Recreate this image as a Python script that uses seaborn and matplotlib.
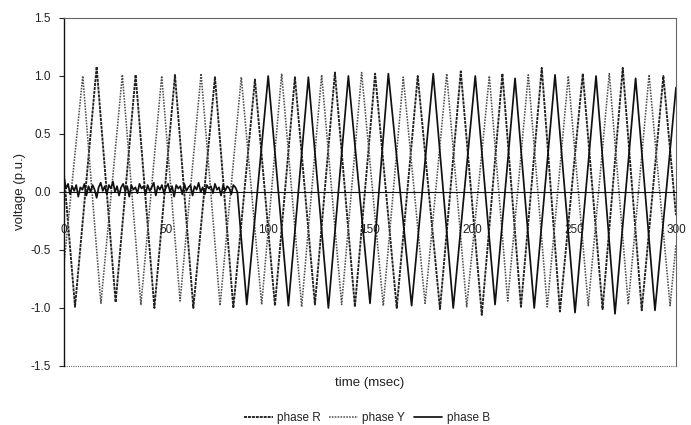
import numpy as np
import pandas as pd
import matplotlib
matplotlib.use("Agg")
import matplotlib.pyplot as plt
from matplotlib.lines import Line2D
import seaborn as sns

# Phase R: start value then alternating troughs / peaks (time in msec, voltage in p.u.)
r_time = [0, 5.4, 16.0, 25.3, 35.1, 44.3, 54.4, 63.4, 74.0, 83.0, 93.6, 103.4,
          113.2, 123.0, 132.8, 142.6, 152.5, 163.1, 173.4, 184.3, 194.5, 204.8,
          214.9, 224.0, 234.2, 243.1, 254.3, 264.0, 273.9, 283.2, 293.8, 300]
r_volt = [0.15, -0.99, 1.08, -0.95, 1.01, -1.00, 1.01, -1.00, 0.99, -1.00, 0.97, -0.98,
          0.99, -0.97, 1.03, -0.99, 1.02, -1.00, 1.00, -1.01, 1.04, -1.06,
          1.02, -0.99, 1.07, -1.03, 1.02, -1.01, 1.07, -1.02, 1.00, -0.20]

# Phase Y: start value then alternating peaks / troughs
y_time = [0, 9.2, 18.1, 28.6, 37.7, 47.9, 56.9, 67.2, 76.5, 86.9, 96.9, 106.7,
          116.5, 126.3, 136.1, 145.9, 156.5, 166.3, 177.0, 187.6, 197.4, 208.5,
          217.5, 227.6, 236.9, 247.2, 257.0, 267.3, 276.6, 286.8, 297.1, 300]
y_volt = [-0.62, 1.00, -0.96, 1.01, -0.97, 1.00, -0.94, 1.02, -0.98, 0.99, -0.97, 1.02,
          -0.99, 1.01, -0.97, 1.03, -0.98, 0.99, -0.96, 1.02, -0.99, 1.00,
          -0.94, 1.01, -0.99, 1.00, -0.98, 1.02, -0.97, 1.01, -0.98, -0.45]

# Phase B: residual voltage while open (one sample per msec, 0-85 msec)
b_residual = [0.12, 0.03, 0.07, -0.02, 0.05, 0.01, 0.06, -0.04, 0.04, 0.02,
              0.07, -0.03, 0.05, 0.00, 0.06, 0.02, -0.05, 0.04, 0.08, 0.01,
              0.05, -0.02, 0.06, 0.03, 0.09, 0.00, 0.05, -0.03, 0.04, 0.07,
              0.01, 0.05, -0.04, 0.06, 0.02, 0.04, -0.01, 0.07, 0.03, 0.05,
              -0.02, 0.06, 0.01, 0.04, 0.08, -0.03, 0.05, 0.02, 0.06, -0.01,
              0.04, 0.07, 0.00, 0.05, -0.04, 0.06, 0.03, 0.05, -0.02, 0.07,
              0.01, 0.04, 0.06, -0.03, 0.05, 0.02, 0.08, 0.00, 0.04, -0.02,
              0.06, 0.03, 0.05, -0.01, 0.07, 0.02, 0.04, -0.03, 0.06, 0.01,
              0.05, 0.03, -0.02, 0.06, 0.04, 0.00]
# Phase B after reclosing: alternating troughs / peaks
b_time_on = [89.6, 100.1, 110.0, 119.8, 129.6, 139.4, 150.0, 159.0, 170.4, 181.0,
             190.8, 201.6, 211.3, 221.1, 230.5, 240.7, 250.5, 260.8, 270.1, 280.2,
             289.7, 300]
b_volt_on = [-0.97, 1.00, -0.98, 0.99, -1.00, 1.00, -0.96, 1.02, -0.98, 1.02,
             -1.00, 1.00, -0.97, 0.98, -1.00, 1.01, -1.04, 1.00, -1.05, 0.98,
             -1.02, 0.90]

x_ticks = [0, 50, 100, 150, 200, 250, 300]
y_ticks = [-1.5, -1.0, -0.5, 0.0, 0.5, 1.0, 1.5]
phases = ["phase R", "phase Y", "phase B"]

b_time = list(np.arange(len(b_residual), dtype=float)) + b_time_on
b_volt = b_residual + b_volt_on

df = pd.concat([
    pd.DataFrame({"time": r_time, "voltage": r_volt, "phase": phases[0]}),
    pd.DataFrame({"time": y_time, "voltage": y_volt, "phase": phases[1]}),
    pd.DataFrame({"time": b_time, "voltage": b_volt, "phase": phases[2]}),
], ignore_index=True)

sns.set_style("white")
plt.rcParams["font.family"] = ["Liberation Sans", "DejaVu Sans"]

styles = {
    "phase R": dict(color="#222222", linestyle=(0, (1.6, 0.5)), linewidth=1.35),
    "phase Y": dict(color="#505050", linestyle=(0, (1.0, 0.8)), linewidth=1.15),
    "phase B": dict(color="#111111", linestyle="-", linewidth=1.25),
}

fig = plt.figure(figsize=(6.91, 4.25), dpi=100)
ax = fig.add_axes([64 / 691, 1 - 366 / 425, (676 - 64) / 691, (366 - 18) / 425])

for name in phases:
    sns.lineplot(data=df[df["phase"] == name], x="time", y="voltage", ax=ax,
                 estimator=None, sort=False, legend=False, **styles[name])

ax.set_xlim(0, 300)
ax.set_ylim(-1.5, 1.5)
ax.set_axisbelow(True)

# axis lines: value axis at left, time axis through zero
ax.spines["left"].set_color("#111111")
ax.spines["left"].set_linewidth(1.0)
ax.spines["bottom"].set_position(("data", 0))
ax.spines["bottom"].set_color("#111111")
ax.spines["bottom"].set_linewidth(0.8)
for side in ("top", "right"):
    ax.spines[side].set_linestyle((0, (1, 1)))
    ax.spines[side].set_color("#666666")
    ax.spines[side].set_linewidth(0.8)
ax.axhline(-1.5, color="#666666", linestyle=(0, (1, 1)), linewidth=0.8,
           clip_on=False, zorder=2.5)

ax.set_xticks(x_ticks)
ax.set_xticklabels([str(v) for v in x_ticks])
ax.set_yticks(y_ticks)
ax.set_yticklabels([f"{v:.1f}" for v in y_ticks])
ax.tick_params(axis="x", length=0, pad=23, labelsize=8.5, labelcolor="#222222")
ax.tick_params(axis="y", length=3.5, width=0.8, pad=6, labelsize=8.5,
               labelcolor="#222222", left=True, direction="out")
ax.set_xlabel("")
ax.set_ylabel("")

fig.text(20 / 691, 1 - 192 / 425, "voltage (p.u.)", rotation=90,
         ha="center", va="center", fontsize=9.5, color="#222222")
fig.text(370 / 691, 1 - 383 / 425, "time (msec)", ha="center", va="center",
         fontsize=9.5, color="#222222")

handles = [Line2D([], [], **styles[n]) for n in phases]
fig.legend(handles, phases, loc="center", bbox_to_anchor=(367 / 691, 1 - 418 / 425),
           ncol=3, frameon=False, fontsize=8.5, handlelength=2.4,
           handletextpad=0.4, columnspacing=0.7, labelcolor="#222222")

fig.savefig("out.png", dpi=100)
